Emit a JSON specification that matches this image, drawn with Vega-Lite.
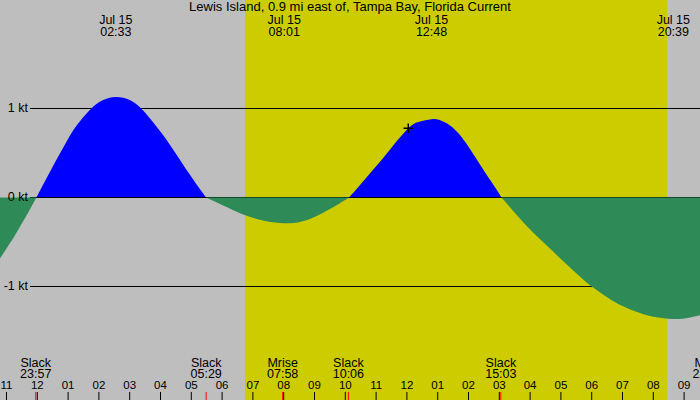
{
  "$schema": "https://vega.github.io/schema/vega-lite/v6.json",
  "width": 700,
  "height": 400,
  "padding": 0,
  "autosize": {"type": "none"},
  "background": "#bebebe",
  "config": {
    "view": {"stroke": null},
    "text": {"font": "Liberation Sans", "fontSize": 12.5, "color": "black"}
  },
  "datasets": {
    "sun": [{"rise": 6.744, "set": 20.445}],
    "kt": [{"v": 1, "lab": "1 kt"}, {"v": 0, "lab": "0 kt"}, {"v": -1, "lab": "-1 kt"}],
    "curve": [
      {"seg": "e0", "phase": "ebb", "h": -1.3, "v": -0.73},
      {"seg": "e0", "phase": "ebb", "h": -0.9, "v": -0.52},
      {"seg": "e0", "phase": "ebb", "h": -0.6, "v": -0.35},
      {"seg": "e0", "phase": "ebb", "h": -0.3, "v": -0.17},
      {"seg": "e0", "phase": "ebb", "h": -0.03, "v": 0},
      {"seg": "f1", "phase": "flood", "h": -0.03, "v": 0},
      {"seg": "f1", "phase": "flood", "h": 0.3, "v": 0.215},
      {"seg": "f1", "phase": "flood", "h": 0.6, "v": 0.41},
      {"seg": "f1", "phase": "flood", "h": 0.97, "v": 0.64},
      {"seg": "f1", "phase": "flood", "h": 1.3, "v": 0.82},
      {"seg": "f1", "phase": "flood", "h": 1.72, "v": 0.99},
      {"seg": "f1", "phase": "flood", "h": 2.1, "v": 1.09},
      {"seg": "f1", "phase": "flood", "h": 2.55, "v": 1.13},
      {"seg": "f1", "phase": "flood", "h": 3.0, "v": 1.095},
      {"seg": "f1", "phase": "flood", "h": 3.34, "v": 1.01},
      {"seg": "f1", "phase": "flood", "h": 3.7, "v": 0.87},
      {"seg": "f1", "phase": "flood", "h": 4.21, "v": 0.64},
      {"seg": "f1", "phase": "flood", "h": 4.75, "v": 0.36},
      {"seg": "f1", "phase": "flood", "h": 5.29, "v": 0.09},
      {"seg": "f1", "phase": "flood", "h": 5.48, "v": 0},
      {"seg": "e1", "phase": "ebb", "h": 5.48, "v": 0},
      {"seg": "e1", "phase": "ebb", "h": 6.16, "v": -0.11},
      {"seg": "e1", "phase": "ebb", "h": 6.75, "v": -0.2},
      {"seg": "e1", "phase": "ebb", "h": 7.4, "v": -0.265},
      {"seg": "e1", "phase": "ebb", "h": 8.02, "v": -0.29},
      {"seg": "e1", "phase": "ebb", "h": 8.5, "v": -0.278},
      {"seg": "e1", "phase": "ebb", "h": 9.0, "v": -0.22},
      {"seg": "e1", "phase": "ebb", "h": 9.5, "v": -0.13},
      {"seg": "e1", "phase": "ebb", "h": 9.8, "v": -0.07},
      {"seg": "e1", "phase": "ebb", "h": 10.12, "v": 0},
      {"seg": "f2", "phase": "flood", "h": 10.12, "v": 0},
      {"seg": "f2", "phase": "flood", "h": 10.5, "v": 0.15},
      {"seg": "f2", "phase": "flood", "h": 11.0, "v": 0.35},
      {"seg": "f2", "phase": "flood", "h": 11.5, "v": 0.56},
      {"seg": "f2", "phase": "flood", "h": 12.05, "v": 0.777},
      {"seg": "f2", "phase": "flood", "h": 12.4, "v": 0.85},
      {"seg": "f2", "phase": "flood", "h": 12.8, "v": 0.88},
      {"seg": "f2", "phase": "flood", "h": 13.1, "v": 0.865},
      {"seg": "f2", "phase": "flood", "h": 13.4, "v": 0.81},
      {"seg": "f2", "phase": "flood", "h": 13.7, "v": 0.71},
      {"seg": "f2", "phase": "flood", "h": 14.0, "v": 0.57},
      {"seg": "f2", "phase": "flood", "h": 14.3, "v": 0.41},
      {"seg": "f2", "phase": "flood", "h": 14.6, "v": 0.25},
      {"seg": "f2", "phase": "flood", "h": 14.85, "v": 0.12},
      {"seg": "f2", "phase": "flood", "h": 15.07, "v": 0},
      {"seg": "e2", "phase": "ebb", "h": 15.07, "v": 0},
      {"seg": "e2", "phase": "ebb", "h": 15.5, "v": -0.17},
      {"seg": "e2", "phase": "ebb", "h": 16.0, "v": -0.36},
      {"seg": "e2", "phase": "ebb", "h": 16.54, "v": -0.54},
      {"seg": "e2", "phase": "ebb", "h": 17.0, "v": -0.69},
      {"seg": "e2", "phase": "ebb", "h": 17.5, "v": -0.85},
      {"seg": "e2", "phase": "ebb", "h": 18.0, "v": -1.0},
      {"seg": "e2", "phase": "ebb", "h": 18.5, "v": -1.12},
      {"seg": "e2", "phase": "ebb", "h": 19.0, "v": -1.22},
      {"seg": "e2", "phase": "ebb", "h": 19.5, "v": -1.29},
      {"seg": "e2", "phase": "ebb", "h": 20.0, "v": -1.34},
      {"seg": "e2", "phase": "ebb", "h": 20.65, "v": -1.365},
      {"seg": "e2", "phase": "ebb", "h": 21.1, "v": -1.355},
      {"seg": "e2", "phase": "ebb", "h": 21.6, "v": -1.315}
    ],
    "hours": [
      {"h": -1, "lab": "11"}, {"h": 0, "lab": "12"}, {"h": 1, "lab": "01"}, {"h": 2, "lab": "02"},
      {"h": 3, "lab": "03"}, {"h": 4, "lab": "04"}, {"h": 5, "lab": "05"}, {"h": 6, "lab": "06"},
      {"h": 7, "lab": "07"}, {"h": 8, "lab": "08"}, {"h": 9, "lab": "09"}, {"h": 10, "lab": "10"},
      {"h": 11, "lab": "11"}, {"h": 12, "lab": "12"}, {"h": 13, "lab": "01"}, {"h": 14, "lab": "02"},
      {"h": 15, "lab": "03"}, {"h": 16, "lab": "04"}, {"h": 17, "lab": "05"}, {"h": 18, "lab": "06"},
      {"h": 19, "lab": "07"}, {"h": 20, "lab": "08"}, {"h": 21, "lab": "09"}
    ],
    "events": [
      {"h": -0.05, "lab": "Slack\n23:57"},
      {"h": 5.483, "lab": "Slack\n05:29"},
      {"h": 7.967, "lab": "Mrise\n07:58"},
      {"h": 10.1, "lab": "Slack\n10:06"},
      {"h": 15.05, "lab": "Slack\n15:03"},
      {"h": 21.78, "lab": "Mset\n21:47"}
    ],
    "extremes": [
      {"h": 2.55, "lab": "Jul 15\n02:33"},
      {"h": 8.017, "lab": "Jul 15\n08:01"},
      {"h": 12.8, "lab": "Jul 15\n12:48"},
      {"h": 20.65, "lab": "Jul 15\n20:39"}
    ],
    "now": [{"h": 12.045, "v": 0.7775}]
  },
  "layer": [
    {
      "data": {"name": "sun"},
      "mark": {"type": "rect", "color": "#cccc00"},
      "encoding": {
        "x": {"field": "rise", "type": "quantitative", "scale": {"domain": [-1.211, 21.516], "nice": false, "zero": false}, "axis": null},
        "x2": {"field": "set"}
      }
    },
    {
      "data": {"name": "kt"},
      "transform": [{"filter": "datum.v != 0"}],
      "mark": {"type": "rule", "color": "black", "strokeWidth": 1},
      "encoding": {
        "y": {"field": "v", "type": "quantitative", "scale": {"domain": [-2.2753, 2.2191], "nice": false, "zero": false}, "axis": null},
        "x": {"datum": -0.237, "type": "quantitative", "scale": {"domain": [-1.211, 21.516], "nice": false, "zero": false}, "axis": null},
        "x2": {"datum": 21.6}
      }
    },
    {
      "data": {"name": "curve"},
      "transform": [{"filter": "datum.phase == 'flood'"}],
      "mark": {"type": "area", "color": "#0000ff", "interpolate": "natural"},
      "encoding": {
        "x": {"field": "h", "type": "quantitative", "scale": {"domain": [-1.211, 21.516], "nice": false, "zero": false}, "axis": null},
        "y": {"field": "v", "type": "quantitative", "scale": {"domain": [-2.2753, 2.2191], "nice": false, "zero": false}, "axis": null},
        "y2": {"datum": 0},
        "detail": {"field": "seg"}
      }
    },
    {
      "data": {"name": "kt"},
      "transform": [{"filter": "datum.v == 0"}],
      "mark": {"type": "rule", "color": "black", "strokeWidth": 1},
      "encoding": {
        "y": {"field": "v", "type": "quantitative", "scale": {"domain": [-2.2753, 2.2191], "nice": false, "zero": false}, "axis": null},
        "x": {"datum": -0.237, "type": "quantitative", "scale": {"domain": [-1.211, 21.516], "nice": false, "zero": false}, "axis": null},
        "x2": {"datum": 21.6}
      }
    },
    {
      "data": {"name": "curve"},
      "transform": [{"filter": "datum.phase == 'ebb'"}],
      "mark": {"type": "area", "color": "#2e8b57", "interpolate": "natural"},
      "encoding": {
        "x": {"field": "h", "type": "quantitative", "scale": {"domain": [-1.211, 21.516], "nice": false, "zero": false}, "axis": null},
        "y": {"field": "v", "type": "quantitative", "scale": {"domain": [-2.2753, 2.2191], "nice": false, "zero": false}, "axis": null},
        "y2": {"datum": 0},
        "detail": {"field": "seg"}
      }
    },
    {
      "data": {"name": "hours"},
      "mark": {"type": "rule", "color": "black", "strokeWidth": 1},
      "encoding": {
        "x": {"field": "h", "type": "quantitative", "scale": {"domain": [-1.211, 21.516], "nice": false, "zero": false}, "axis": null},
        "y": {"datum": -2.185, "type": "quantitative", "scale": {"domain": [-2.2753, 2.2191], "nice": false, "zero": false}, "axis": null},
        "y2": {"datum": -2.2753}
      }
    },
    {
      "data": {"name": "hours"},
      "mark": {"type": "text", "align": "center", "baseline": "alphabetic", "fontSize": 11.5},
      "encoding": {
        "x": {"field": "h", "type": "quantitative", "scale": {"domain": [-1.211, 21.516], "nice": false, "zero": false}, "axis": null},
        "y": {"datum": -2.157, "type": "quantitative", "scale": {"domain": [-2.2753, 2.2191], "nice": false, "zero": false}, "axis": null},
        "text": {"field": "lab"}
      }
    },
    {
      "data": {"name": "events"},
      "mark": {"type": "rule", "color": "#ff0000", "strokeWidth": 1},
      "encoding": {
        "x": {"field": "h", "type": "quantitative", "scale": {"domain": [-1.211, 21.516], "nice": false, "zero": false}, "axis": null},
        "y": {"datum": -2.185, "type": "quantitative", "scale": {"domain": [-2.2753, 2.2191], "nice": false, "zero": false}, "axis": null},
        "y2": {"datum": -2.2753}
      }
    },
    {
      "data": {"name": "events"},
      "mark": {"type": "text", "align": "center", "baseline": "alphabetic", "lineBreak": "\n", "lineHeight": 11.5},
      "encoding": {
        "x": {"field": "h", "type": "quantitative", "scale": {"domain": [-1.211, 21.516], "nice": false, "zero": false}, "axis": null},
        "y": {"datum": -1.899, "type": "quantitative", "scale": {"domain": [-2.2753, 2.2191], "nice": false, "zero": false}, "axis": null},
        "text": {"field": "lab"}
      }
    },
    {
      "data": {"name": "extremes"},
      "mark": {"type": "text", "align": "center", "baseline": "alphabetic", "lineBreak": "\n", "lineHeight": 12},
      "encoding": {
        "x": {"field": "h", "type": "quantitative", "scale": {"domain": [-1.211, 21.516], "nice": false, "zero": false}, "axis": null},
        "y": {"datum": 1.949, "type": "quantitative", "scale": {"domain": [-2.2753, 2.2191], "nice": false, "zero": false}, "axis": null},
        "text": {"field": "lab"}
      }
    },
    {
      "data": {"values": [{"t": "Lewis Island, 0.9 mi east of, Tampa Bay, Florida Current"}]},
      "mark": {"type": "text", "align": "center", "baseline": "alphabetic", "fontSize": 13},
      "encoding": {
        "x": {"datum": 10.153, "type": "quantitative", "scale": {"domain": [-1.211, 21.516], "nice": false, "zero": false}, "axis": null},
        "y": {"datum": 2.09, "type": "quantitative", "scale": {"domain": [-2.2753, 2.2191], "nice": false, "zero": false}, "axis": null},
        "text": {"field": "t"}
      }
    },
    {
      "data": {"name": "kt"},
      "mark": {"type": "text", "align": "right", "baseline": "middle"},
      "encoding": {
        "x": {"datum": -0.302, "type": "quantitative", "scale": {"domain": [-1.211, 21.516], "nice": false, "zero": false}, "axis": null},
        "y": {"field": "v", "type": "quantitative", "scale": {"domain": [-2.2753, 2.2191], "nice": false, "zero": false}, "axis": null},
        "text": {"field": "lab"}
      }
    },
    {
      "data": {"name": "now"},
      "mark": {"type": "point", "shape": "M-1,0H1M0,-1V1", "size": 90, "filled": false, "stroke": "black", "strokeWidth": 1.5, "opacity": 1},
      "encoding": {
        "x": {"field": "h", "type": "quantitative", "scale": {"domain": [-1.211, 21.516], "nice": false, "zero": false}, "axis": null},
        "y": {"field": "v", "type": "quantitative", "scale": {"domain": [-2.2753, 2.2191], "nice": false, "zero": false}, "axis": null}
      }
    }
  ]
}
